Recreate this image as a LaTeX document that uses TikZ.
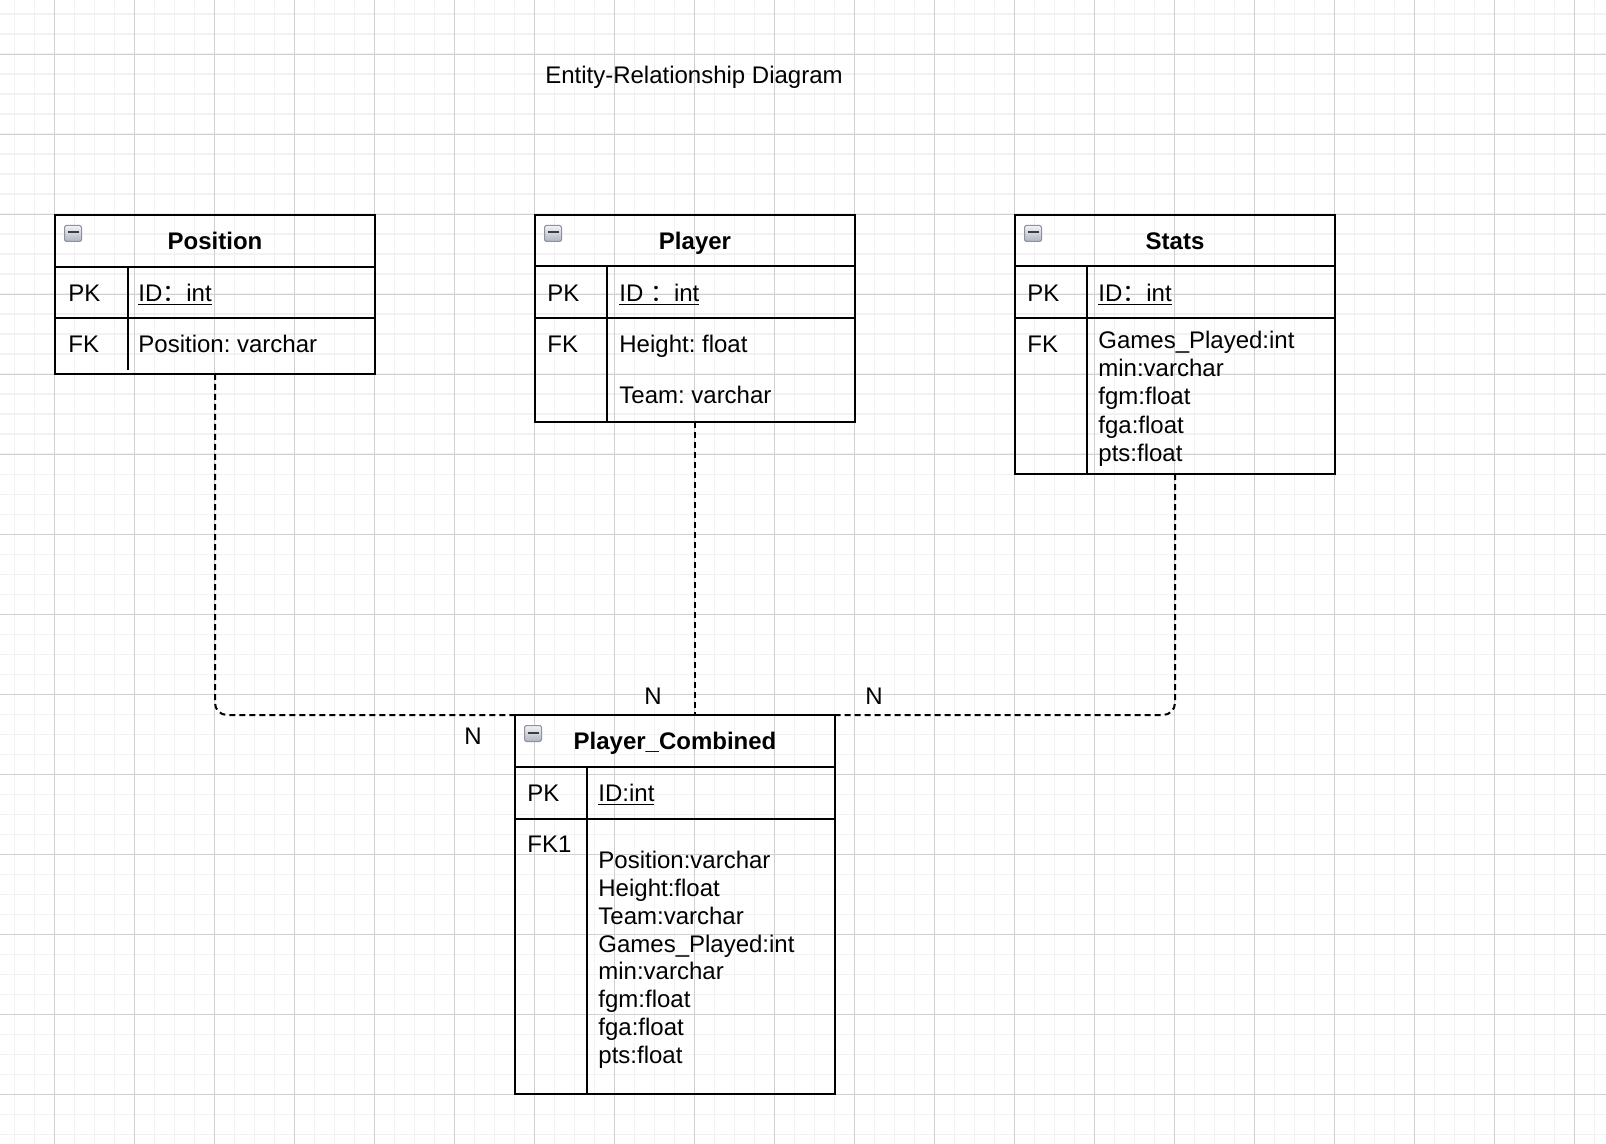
\documentclass[tikz,border=0pt]{standalone}
\usepackage{fontspec}
\setmainfont{Liberation Sans}
\newfontfamily\cjkfont{Noto Sans CJK SC}
\usetikzlibrary{calc}
\frenchspacing
\definecolor{minorgrid}{HTML}{F2F2F2}
\definecolor{majorgrid}{HTML}{D0D0D0}
\definecolor{iconedge}{HTML}{8C939E}
\definecolor{icontop}{HTML}{F2F3F5}
\definecolor{iconbot}{HTML}{AEB5BF}
\definecolor{iconbar}{HTML}{3A3F47}
\newcommand\fwcolon{{\cjkfont ：}}
\tikzset{
  tbl/.style={draw=black, line width=1pt, inner sep=0pt, outer sep=0pt, anchor=north west, minimum width=160pt},
  sepline/.style={line width=1pt, draw=black},
  hdr/.style={font=\bfseries\fontsize{12}{14}\selectfont, inner sep=0pt, anchor=base},
  txt/.style={font=\fontsize{12}{14}\selectfont, inner sep=0pt, anchor=base west},
  lbl/.style={font=\fontsize{12}{14}\selectfont, inner sep=0pt, anchor=base},
  rel/.style={draw=black, line width=1pt, dash pattern=on 3pt off 2pt, rounded corners=6pt},
  icon/.style={draw=iconedge, line width=0.5pt, top color=icontop, bottom color=iconbot,
    minimum width=8.5pt, minimum height=8pt, inner sep=0pt, rounded corners=0.8pt, anchor=north west,
    path picture={\draw[iconbar, line width=1pt] ($(path picture bounding box.west)+(3,-1)$) -- ($(path picture bounding box.east)+(-3,-1)$);}}
}
\begin{document}
\begin{tikzpicture}[x=0.5pt,y=-0.5pt]
\useasboundingbox (0,0) rectangle (1606,1144);
\fill[white] (0,0) rectangle (1606,1144);
% grid
\foreach \k in {0,...,79} \draw[minorgrid, line width=0.8pt] ({14.3+20*\k},0) -- ({14.3+20*\k},1144);
\foreach \k in {0,...,56} \draw[minorgrid, line width=0.8pt] (0,{14.3+20*\k}) -- (1606,{14.3+20*\k});
\foreach \k in {0,...,19} \draw[majorgrid, line width=0.5pt] ({54.3+80*\k},0) -- ({54.3+80*\k},1144);
\foreach \k in {0,...,13} \draw[majorgrid, line width=0.5pt] (0,{54.3+80*\k}) -- (1606,{54.3+80*\k});

% title
\node[lbl] (title) at (694,84) {Entity-Relationship Diagram};

% ---------- Position ----------
\node[tbl, minimum height=79.5pt] (pos) at (55,215) {};
\draw[sepline] (55,267) -- (375,267);
\draw[sepline] (55,318) -- (375,318);
\draw[sepline] (127.5,267) -- (127.5,370);
\node[icon] (posicon) at (64,225) {};
\node[hdr] (posh) at (215,250) {Position};
\node[txt] (pospk) at (68,301.7) {PK};
\node[txt] (posid) at (138,301.7) {\underline{ID\fwcolon int}};
\node[txt] (posfk) at (68,353) {FK};
\node[txt] (posf1) at (138,353) {Position: varchar};

% ---------- Player ----------
\node[tbl, minimum height=103.5pt] (player) at (535,215) {};
\draw[sepline] (535,266.5) -- (855,266.5);
\draw[sepline] (535,318) -- (855,318);
\draw[sepline] (607,266.5) -- (607,422);
\node[icon] (plicon) at (544,225) {};
\node[hdr] (plh) at (695,250) {Player};
\node[txt] (plpk) at (547,301.7) {PK};
\node[txt] (plid) at (619,301.7) {\underline{ID \fwcolon int}};
\node[txt] (plfk) at (547,353) {FK};
\node[txt] (plf1) at (619,353) {Height: float};
\node[txt] (plf2) at (619,404) {Team: varchar};

% ---------- Stats ----------
\node[tbl, minimum height=129.5pt] (stats) at (1015,215) {};
\draw[sepline] (1015,266.5) -- (1335,266.5);
\draw[sepline] (1015,318) -- (1335,318);
\draw[sepline] (1087,266.5) -- (1087,474);
\node[icon] (sticon) at (1024,225) {};
\node[hdr] (sth) at (1175,250) {Stats};
\node[txt] (stpk) at (1027,301.7) {PK};
\node[txt] (stid) at (1098,301.7) {\underline{ID\fwcolon int}};
\node[txt] (stfk) at (1027,353) {FK};
\foreach \t [count=\i] in {Games\_Played:int, min:varchar, fgm:float, fga:float, pts:float}
  \node[txt] (stf\i) at (1098,{348.3+28.35*(\i-1)}) {\t};

% ---------- Player_Combined ----------
\node[tbl, minimum height=189.5pt] (pc) at (515,715) {};
\draw[sepline] (515,767) -- (835,767);
\draw[sepline] (515,819) -- (835,819);
\draw[sepline] (587,767) -- (587,1094);
\node[icon] (pcicon) at (524,725) {};
\node[hdr] (pch) at (675,749.3) {Player\_Combined};
\node[txt] (pcpk) at (527,801.7) {PK};
\node[txt] (pcid) at (598,801.7) {\underline{ID:int}};
\node[txt] (pcfk) at (527,852.7) {FK1};
\foreach \t [count=\i] in {Position:varchar, Height:float, Team:varchar, Games\_Played:int, min:varchar, fgm:float, fga:float, pts:float}
  \node[txt] (pcf\i) at (598,{868.3+27.9*(\i-1)}) {\t};

% ---------- relations ----------
\draw[rel] (pos.south) |- (pc.north west);
\draw[rel] (player.south) -- (player.south |- pc.north);
\draw[rel] (stats.south) |- (pc.north east);

\node[lbl] (n1) at (473,744) {N};
\node[lbl] (n2) at (653,704) {N};
\node[lbl] (n3) at (874,704) {N};
\end{tikzpicture}
\end{document}
